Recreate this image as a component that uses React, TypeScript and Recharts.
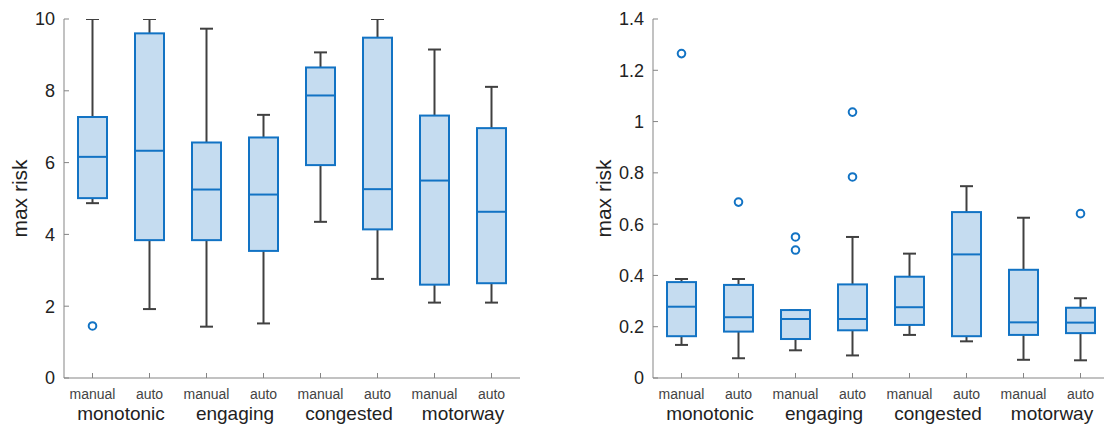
import React from "react";
import { Bar, ComposedChart, Line, XAxis, YAxis } from "recharts";

const categories = ["manual", "auto", "manual", "auto", "manual", "auto", "manual", "auto"];
const groups = ["monotonic", "engaging", "congested", "motorway"];
const ids = categories.map((c, i) => `${groups[Math.floor(i / 2)]}-${c}`);

// left panel: max risk
const leftMin = [4.87, 1.92, 1.43, 1.52, 4.35, 2.76, 2.1, 2.1];
const leftQ1 = [5.01, 3.84, 3.84, 3.54, 5.93, 4.14, 2.6, 2.64];
const leftMed = [6.16, 6.33, 5.25, 5.11, 7.87, 5.26, 5.5, 4.63];
const leftQ3 = [7.27, 9.6, 6.56, 6.7, 8.65, 9.48, 7.31, 6.96];
const leftMax = [10.0, 10.0, 9.73, 7.33, 9.07, 10.0, 9.15, 8.11];
const leftOutliers = [[1.45], [], [], [], [], [], [], []];
const leftTicks = [0, 2, 4, 6, 8, 10];

// right panel: max risk
const rightMin = [0.129, 0.077, 0.108, 0.088, 0.168, 0.143, 0.071, 0.069];
const rightQ1 = [0.163, 0.181, 0.152, 0.186, 0.207, 0.163, 0.168, 0.175];
const rightMed = [0.278, 0.237, 0.23, 0.23, 0.276, 0.482, 0.217, 0.216];
const rightQ3 = [0.374, 0.363, 0.265, 0.365, 0.395, 0.647, 0.422, 0.274];
const rightMax = [0.386, 0.386, 0.265, 0.55, 0.485, 0.748, 0.625, 0.311];
const rightOutliers = [[1.265], [0.686], [0.55, 0.499], [1.037, 0.784], [], [], [], [0.641]];
const rightTicks = [0, 0.2, 0.4, 0.6, 0.8, 1, 1.2, 1.4];

const FONT = "'Liberation Sans', Arial, Helvetica, sans-serif";
const BLUE = "#1273c4";
const FILL = "#c5dcf0";
const WHISKER = "#404040";
const AXIS = "#858585";
const TEXT = "#222222";

type Row = { id: string; min: number; q1: number; med: number; q3: number; max: number; o1: number | null; o2: number | null };

function buildRows(mn: number[], q1: number[], med: number[], q3: number[], mx: number[], outs: number[][]): Row[] {
  return ids.map((id, i) => ({
    id,
    min: mn[i],
    q1: q1[i],
    med: med[i],
    q3: q3[i],
    max: mx[i],
    o1: outs[i][0] ?? null,
    o2: outs[i][1] ?? null,
  }));
}

const leftRows = buildRows(leftMin, leftQ1, leftMed, leftQ3, leftMax, leftOutliers);
const rightRows = buildRows(rightMin, rightQ1, rightMed, rightQ3, rightMax, rightOutliers);

// bar spans [min, max]; box, median and whiskers are placed on the same pixel scale
function BoxShape(props: any) {
  const { x, y, width, height, payload } = props;
  if (!payload || !height) return null;
  const d = payload as Row;
  const top = Math.min(y, y + height);
  const ppu = Math.abs(height) / (d.max - d.min);
  const py = (v: number) => top + (d.max - v) * ppu;
  const cx = x + width / 2;
  const cap = 6.5;
  return (
    <g>
      <line x1={cx} x2={cx} y1={py(d.max)} y2={py(d.q3)} stroke={WHISKER} strokeWidth={2} />
      <line x1={cx} x2={cx} y1={py(d.q1)} y2={py(d.min)} stroke={WHISKER} strokeWidth={2} />
      <line x1={cx - cap} x2={cx + cap} y1={py(d.max)} y2={py(d.max)} stroke={WHISKER} strokeWidth={2} />
      <line x1={cx - cap} x2={cx + cap} y1={py(d.min)} y2={py(d.min)} stroke={WHISKER} strokeWidth={2} />
      <rect x={x} y={py(d.q3)} width={width} height={py(d.q1) - py(d.q3)} fill={FILL} stroke={BLUE} strokeWidth={2} />
      <line x1={x} x2={x + width} y1={py(d.med)} y2={py(d.med)} stroke={BLUE} strokeWidth={2} />
    </g>
  );
}

function CatTick(props: any) {
  const { x, y, payload, half } = props;
  const idx = ids.indexOf(payload.value);
  if (idx < 0) return null;
  return (
    <g>
      <text x={x} y={y} dy={16} textAnchor="middle" fontSize={14} fill="#444444" fontFamily={FONT}>
        {categories[idx]}
      </text>
      {idx % 2 === 0 && (
        <text x={x + half} y={y} dy={37} textAnchor="middle" fontSize={19} fill={TEXT} fontFamily={FONT}>
          {groups[idx / 2]}
        </text>
      )}
    </g>
  );
}

function Panel({ rows, ticks, max, width, yWidth, labelX }: { rows: Row[]; ticks: number[]; max: number; width: number; yWidth: number; labelX: number }) {
  const plotW = 456;
  const half = plotW / rows.length / 2;
  const dot = { r: 3.8, fill: "#ffffff", stroke: BLUE, strokeWidth: 2 };
  return (
    <ComposedChart width={width} height={426} data={rows} margin={{ top: 19, right: width - yWidth - plotW, left: 0, bottom: 0 }}>
      <XAxis
        dataKey="id"
        type="category"
        allowDuplicatedCategory={false}
        interval={0}
        height={48}
        stroke={AXIS}
        tickSize={-5}
        tickMargin={10}
        tick={<CatTick half={half} />}
      />
      <YAxis
        type="number"
        domain={[0, max]}
        ticks={ticks}
        allowDataOverflow
        width={yWidth}
        stroke={AXIS}
        tickSize={-5}
        tickMargin={14}
        tick={{ fontSize: 18, fill: TEXT, fontFamily: FONT }}
        label={({ viewBox }: any) => (
          <text
            x={viewBox.x + labelX}
            y={viewBox.y + viewBox.height / 2}
            transform={`rotate(-90 ${viewBox.x + labelX} ${viewBox.y + viewBox.height / 2})`}
            textAnchor="middle"
            dominantBaseline="central"
            fontSize={21}
            fill={TEXT}
            fontFamily={FONT}
          >
            max risk
          </text>
        )}
      />
      <Bar dataKey={(d: Row) => [d.min, d.max]} barSize={29} shape={<BoxShape />} isAnimationActive={false} />
      <Line dataKey="o1" stroke="none" dot={dot} activeDot={false} isAnimationActive={false} />
      <Line dataKey="o2" stroke="none" dot={dot} activeDot={false} isAnimationActive={false} />
    </ComposedChart>
  );
}

export default function App() {
  return (
    <div style={{ position: "absolute", left: 0, top: 0, width: 1104, height: 426, overflow: "hidden", background: "#ffffff" }}>
      <div style={{ position: "absolute", left: 0, top: 0 }}>
        <Panel rows={leftRows} ticks={leftTicks} max={10} width={522} yWidth={64} labelX={19} />
      </div>
      <div style={{ position: "absolute", left: 560, top: 0 }}>
        <Panel rows={rightRows} ticks={rightTicks} max={1.4} width={550} yWidth={93} labelX={43} />
      </div>
    </div>
  );
}
